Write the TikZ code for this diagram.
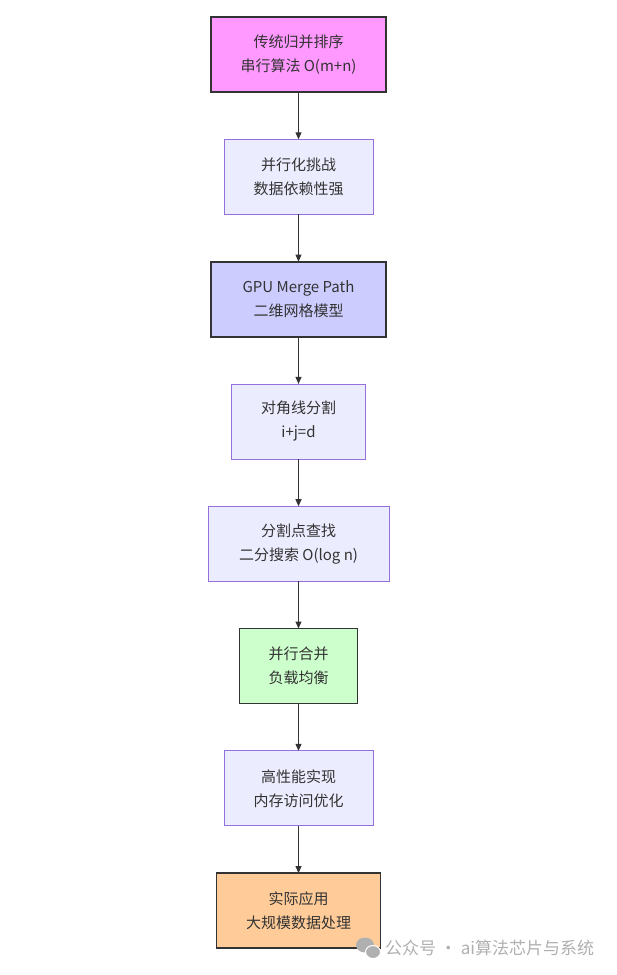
\documentclass[tikz,border=0pt]{standalone}
\usepackage{fontspec}
\setmainfont{Noto Sans CJK SC}
\usetikzlibrary{positioning,arrows.meta}
\definecolor{linec}{HTML}{333333}
\definecolor{purp}{HTML}{9370DB}
\definecolor{lightc}{HTML}{ECECFF}
\definecolor{pinkc}{HTML}{FF99FF}
\definecolor{bluec}{HTML}{CCCCFF}
\definecolor{greenc}{HTML}{CCFFCC}
\definecolor{orangec}{HTML}{FFCC99}
\definecolor{markc}{HTML}{B0B0B0}
\tikzset{
  box/.style={rectangle, align=center, minimum height=75pt, inner sep=0pt, outer sep=0pt,
    font=\fontsize{15}{24}\selectfont, text=linec},
  keybox/.style={box, draw=linec, line width=1.8pt},
  plainbox/.style={box, draw=purp, line width=0.8pt, fill=lightc},
  flow/.style={-{Triangle[length=7pt,width=6pt]}, draw=linec, line width=1pt}
}
\begin{document}
\begin{tikzpicture}[x=1pt,y=1pt,node distance=47.3pt]
\useasboundingbox[fill=white] (0,0) rectangle (617,-975);
\node[keybox, fill=pinkc, minimum width=175pt] (sort) at (298.5,-54.5) {传统归并排序\\串行算法 O(m+n)};
\node[plainbox, minimum width=149pt, below=of sort] (chal) {并行化挑战\\数据依赖性强};
\node[keybox, fill=bluec, minimum width=175pt, below=of chal] (path) {GPU Merge Path\\二维网格模型};
\node[plainbox, minimum width=134pt, below=of path] (diag) {对角线分割\\i+j=d};
\node[plainbox, minimum width=181pt, below=of diag] (find) {分割点查找\\二分搜索 O(log n)};
\node[keybox, fill=greenc, minimum width=118pt, below=of find] (merge) {并行合并\\负载均衡};
\node[plainbox, minimum width=149pt, below=of merge] (impl) {高性能实现\\内存访问优化};
\node[keybox, fill=orangec, minimum width=164pt, below=of impl] (app) {实际应用\\大规模数据处理};
\foreach \a/\b in {sort/chal,chal/path,path/diag,diag/find,find/merge,merge/impl,impl/app}
  \draw[flow] (\a) -- (\b);
% watermark
\fill[markc] (365,-945) ellipse (9 and 7.5);
\fill[markc, draw=white, line width=1pt] (373,-952) ellipse (7.5 and 6.5);
\node[anchor=west, text=markc, font=\fontsize{17}{18}\selectfont, inner sep=0pt] (mark) at (385,-948) {公众号 · ai算法芯片与系统};
\end{tikzpicture}
\end{document}
